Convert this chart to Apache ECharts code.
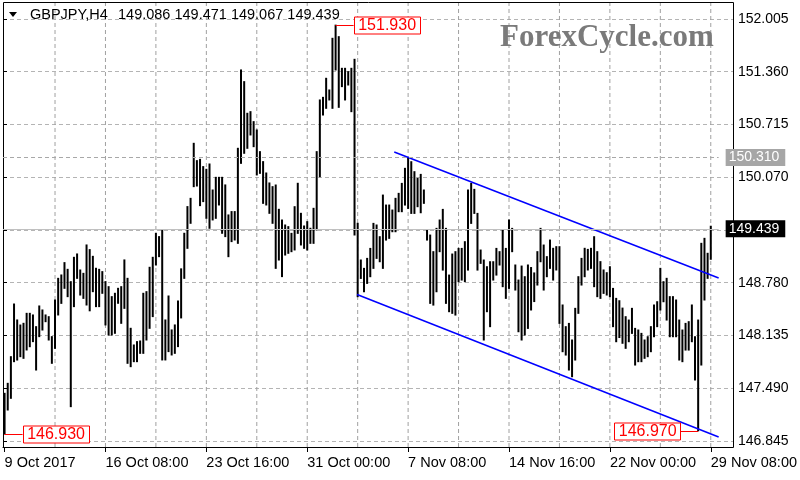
<!DOCTYPE html>
<html><head><meta charset="utf-8">
<script src="https://cdn.jsdelivr.net/npm/echarts@6/dist/echarts.min.js"></script>
<style>html,body{margin:0;padding:0;background:#fff}#c{width:800px;height:480px}</style>
</head><body><div id="c"></div>
<script>
// ---- data (GBPJPY H4) ----
const highs = [147.428,147.550,147.876,148.520,148.325,148.263,148.284,148.406,148.406,148.386,148.243,148.496,148.447,148.386,148.365,148.121,148.569,148.834,148.875,149.026,148.944,148.793,149.091,149.132,148.936,148.895,149.242,149.185,149.103,148.957,148.944,148.916,148.794,148.732,148.610,148.651,148.712,148.732,149.059,148.834,148.223,148.019,148.060,148.068,148.651,148.671,148.969,149.091,149.385,149.344,149.425,148.325,148.618,148.203,148.264,148.557,148.950,149.385,149.711,149.812,150.485,150.273,150.289,150.200,150.167,150.232,149.914,150.069,150.069,150.069,149.976,149.609,149.650,149.650,150.424,151.382,151.239,150.852,150.872,150.750,150.648,150.383,150.261,150.122,150.000,149.955,149.975,149.678,149.547,149.486,149.466,149.384,149.710,149.996,149.629,149.474,149.527,149.446,149.690,150.383,151.015,151.047,151.280,151.137,151.769,151.930,151.789,151.402,151.402,151.361,151.402,151.512,149.507,149.058,148.956,149.078,149.200,149.506,149.486,149.343,149.852,149.730,149.730,149.669,149.812,149.873,149.995,150.179,150.310,150.260,150.138,150.056,150.105,149.914,149.424,149.363,149.160,149.445,149.547,149.677,149.445,148.874,149.131,149.160,149.200,149.200,149.282,149.914,149.995,149.922,149.628,149.180,149.058,148.976,149.037,149.037,149.200,149.160,149.425,149.200,149.547,149.445,148.997,148.813,148.984,148.854,148.997,148.966,148.900,149.160,149.445,149.241,149.099,149.302,149.201,149.221,149.221,148.508,148.243,148.283,148.080,148.467,148.854,149.078,149.201,149.188,149.201,149.343,149.160,149.038,148.936,148.903,148.976,148.711,148.589,148.560,148.470,148.365,148.324,148.467,148.222,148.202,148.161,148.080,148.120,148.243,148.508,148.548,148.956,148.793,148.834,148.610,148.610,148.569,148.324,148.202,148.283,148.304,148.508,148.120,148.324,149.262,149.323,149.140,149.471];
const lows = [146.930,147.224,147.367,147.815,147.835,147.876,147.856,147.958,147.998,148.060,147.713,148.121,148.202,148.304,148.080,147.795,147.978,148.386,148.528,148.712,148.610,147.265,148.488,148.834,148.630,148.589,148.508,148.437,148.671,148.488,148.488,148.651,148.264,148.141,148.141,148.162,148.529,148.284,148.467,147.795,147.754,147.815,147.815,147.917,147.917,148.080,148.223,148.366,148.997,149.099,147.836,147.836,147.938,147.897,147.917,147.999,148.350,148.834,149.201,149.507,149.955,149.963,149.723,149.772,149.568,149.446,149.548,149.568,149.731,149.385,149.344,149.099,149.283,149.303,149.262,150.240,150.363,150.424,150.587,150.444,150.098,150.118,149.751,149.731,149.629,149.507,148.956,149.058,148.855,149.119,149.140,149.160,149.181,149.384,149.242,149.201,149.181,149.262,149.262,149.425,150.077,150.831,150.913,151.015,150.913,151.382,150.925,151.178,151.015,151.198,150.872,149.364,148.610,148.833,148.670,148.772,148.854,148.956,149.078,149.037,148.956,149.302,149.323,149.404,149.404,149.649,149.649,149.730,149.689,149.628,149.628,149.710,149.636,149.751,149.302,148.528,148.507,148.670,149.160,148.935,148.528,148.426,148.406,148.385,148.793,148.813,148.793,148.935,149.506,149.628,148.935,149.017,148.080,148.426,148.243,148.813,148.874,148.997,148.732,148.589,148.711,149.160,148.691,148.181,148.080,148.141,148.222,148.447,148.550,148.752,149.037,148.691,148.854,148.956,148.813,148.936,148.283,147.937,147.896,147.713,147.631,147.835,148.406,148.752,148.854,148.936,148.956,148.732,148.610,148.589,148.650,148.630,148.610,148.243,148.059,148.110,148.040,147.978,148.059,148.161,147.774,147.815,147.815,147.856,147.876,147.937,148.120,148.243,148.447,148.548,148.324,148.120,148.120,148.120,147.835,147.815,147.957,147.957,148.059,147.591,146.970,147.774,148.569,148.834,149.067];
const lastOHLC = ['149.086','149.471','149.067','149.439'];
const tickLabels = ['9 Oct 2017','16 Oct 08:00','23 Oct 16:00','31 Oct 00:00','7 Nov 08:00','14 Nov 16:00','22 Nov 00:00','29 Nov 08:00'];
const priceTicks = {min:146.845, max:152.005, step:0.645};
const currentPrice = 149.439;
const levelPrice = 150.310;
const upperTrend = [[123.6,150.379],[226.5,148.838]];
const lowerTrend = [[111.8,148.636],[226.5,146.894]];
const annIdx = [105,0,220];
const annPrice = [151.930,146.930,146.970];
const annSide = [1,1,-1];
const vGridEvery = 16;

// categories: H4 bar times, 6 bars per weekday
const categories = [];
(function(){
  let d = new Date(Date.UTC(2017,9,9,0,0));
  while (categories.length < highs.length + 2) {
    const wd = d.getUTCDay();
    if (wd !== 0 && wd !== 6) categories.push(d.toISOString().slice(0,16));
    d = new Date(d.getTime() + 4*3600*1000);
  }
})();

const FONT = '"Liberation Sans", Arial, sans-serif';
const every32 = (i) => i % 32 === 0 && i/32 < tickLabels.length;

const chart = echarts.init(document.getElementById('c'), null, {renderer:'canvas'});
const gridTop = 19, gridBottom = 39; // label grid (152.005 .. 146.845)
const pxPerUnit = (480 - gridTop - gridBottom) / (priceTicks.max - priceTicks.min);
const dataMax = priceTicks.max + (gridTop - 2) / pxPerUnit;
const dataMin = priceTicks.min - (gridBottom - 33) / pxPerUnit;

const vGridSeries = [];
for (let i = vGridEvery; i < categories.length; i += vGridEvery) {
  vGridSeries.push({type:'line', xAxisIndex:1, yAxisIndex:0, data:[[i, dataMin], [i, dataMax]], showSymbol:false,
    silent:true, z:1, clip:false, lineStyle:{color:'#a0a0a0', type:[4,3], width:1}});
}

chart.setOption({
  animation: false,
  backgroundColor: '#fff',
  grid: [
    {left:3, right:67, top:2, bottom:33},
    {left:3, right:67, top:gridTop, bottom:gridBottom}
  ],
  xAxis: [
    {type:'category', gridIndex:0, data:categories, boundaryGap:true,
     axisLine:{show:true, lineStyle:{color:'#000', width:1}},
     axisTick:{show:true, alignWithLabel:true, interval:(i)=>every32(i), length:5, lineStyle:{color:'#000'}},
     axisLabel:{show:true, interval:(i)=>every32(i), formatter:(v,i)=>tickLabels[i/32] || '', align:'left', margin:8,
       color:'#000', fontFamily:FONT, fontSize:14.5},
     splitLine:{show:false}},
    {type:'value', gridIndex:0, min:-0.5, max:categories.length-0.5, show:false},
    {type:'value', gridIndex:1, min:0, max:1, show:false}
  ],
  yAxis: [
    {type:'value', gridIndex:0, min:dataMin, max:dataMax, show:false},
    {type:'value', gridIndex:1, position:'right', min:priceTicks.min, max:priceTicks.max, interval:priceTicks.step,
     axisLine:{show:false}, axisTick:{show:true, length:4, lineStyle:{color:'#000'}},
     axisLabel:{margin:5, color:'#000', fontFamily:FONT, fontSize:14,
       formatter:(v)=>Math.abs(v-currentPrice) < 0.1 ? '' : v.toFixed(3)},
     splitLine:{show:true, lineStyle:{color:'#b4b4b4', type:[4,3], width:1}}}
  ],
  series: [
    ...vGridSeries,
    {type:'line', xAxisIndex:0, yAxisIndex:0, data:[], silent:true, z:1,
     markLine:{silent:true, symbol:'none', animation:false,
       data:[
         {yAxis:levelPrice, lineStyle:{color:'#a8a8a8', type:[4,3], width:1},
          label:{show:true, position:'end', distance:7, formatter:levelPrice.toFixed(3), color:'#fff', backgroundColor:'#a6a6a6',
                 padding:[2,6,1,3], fontFamily:FONT, fontSize:14}},
         {yAxis:currentPrice, lineStyle:{color:'#c0c0c0', type:'solid', width:1},
          label:{show:true, position:'end', distance:7, formatter:currentPrice.toFixed(3), color:'#fff', backgroundColor:'#000',
                 padding:[2,6,1,3], fontFamily:FONT, fontSize:14}}
       ]}},
    {type:'custom', name:'GBPJPY', xAxisIndex:0, yAxisIndex:0, z:3,
     data: highs.map((h,i)=>[i,h,lows[i]]),
     encode:{x:0, y:[1,2]},
     renderItem:(params, api)=>{
       const hi = api.coord([api.value(0), api.value(1)]);
       const lo = api.coord([api.value(0), api.value(2)]);
       return {type:'line', shape:{x1:hi[0], y1:hi[1]-0.5, x2:lo[0], y2:lo[1]+0.5},
               style:{stroke:'#000', lineWidth:2}};
     }},
    {type:'line', xAxisIndex:1, yAxisIndex:0, data:upperTrend, showSymbol:false, silent:true, z:4, clip:true,
     lineStyle:{color:'#0000ff', width:1.5}},
    {type:'line', xAxisIndex:1, yAxisIndex:0, data:lowerTrend, showSymbol:false, silent:true, z:4, clip:true,
     lineStyle:{color:'#0000ff', width:1.5}},
    {type:'custom', xAxisIndex:0, yAxisIndex:0, z:6, clip:false, silent:true,
     data: annIdx.map((ix,k)=>[ix, annPrice[k], annSide[k]]),
     renderItem:(params, api)=>{
       const p = api.coord([api.value(0), api.value(1)]);
       const side = api.value(2);
       const w = 66, h = 17, gap = 18;
       const bx = side > 0 ? p[0] + gap : p[0] - gap - w;
       const cx = side > 0 ? bx : bx + w;
       const y = Math.round(p[1]) + 0.5;
       return {type:'group', children:[
         {type:'line', shape:{x1:p[0], y1:y, x2:cx, y2:y}, style:{stroke:'#ff0000', lineWidth:1}},
         {type:'rect', shape:{x:Math.round(bx)+0.5, y:Math.round(y-h/2), width:w, height:h}, style:{fill:'#fff', stroke:'#ff0000', lineWidth:1}},
         {type:'text', style:{x:bx+w/2+0.5, y:y+0.5, text:annPrice[params.dataIndex].toFixed(3), fill:'#ff0000',
           font:'16px ' + FONT, align:'center', verticalAlign:'middle'}}
       ]};
     }}
  ],
  graphic: [
    {type:'rect', z:5, silent:true, shape:{x:3.5, y:2.5, width:730, height:445}, style:{fill:null, stroke:'#000', lineWidth:1}},
    {type:'text', left:500, top:22, z:10, style:{text:'ForexCycle.com', fill:'#7a7a7a', font:'bold 31px "Liberation Serif", "Times New Roman", serif'}},
    {type:'polygon', z:10, shape:{points:[[9,12],[17,12],[13,17]]}, style:{fill:'#000'}},
    {type:'text', left:30, top:7, z:10, style:{text:'GBPJPY,H4', fill:'#000', font:'14.5px ' + FONT}},
    {type:'text', left:118, top:7, z:10, style:{text:lastOHLC.join(' '), fill:'#000', font:'14.5px ' + FONT}}
  ]
});
</script></body></html>
